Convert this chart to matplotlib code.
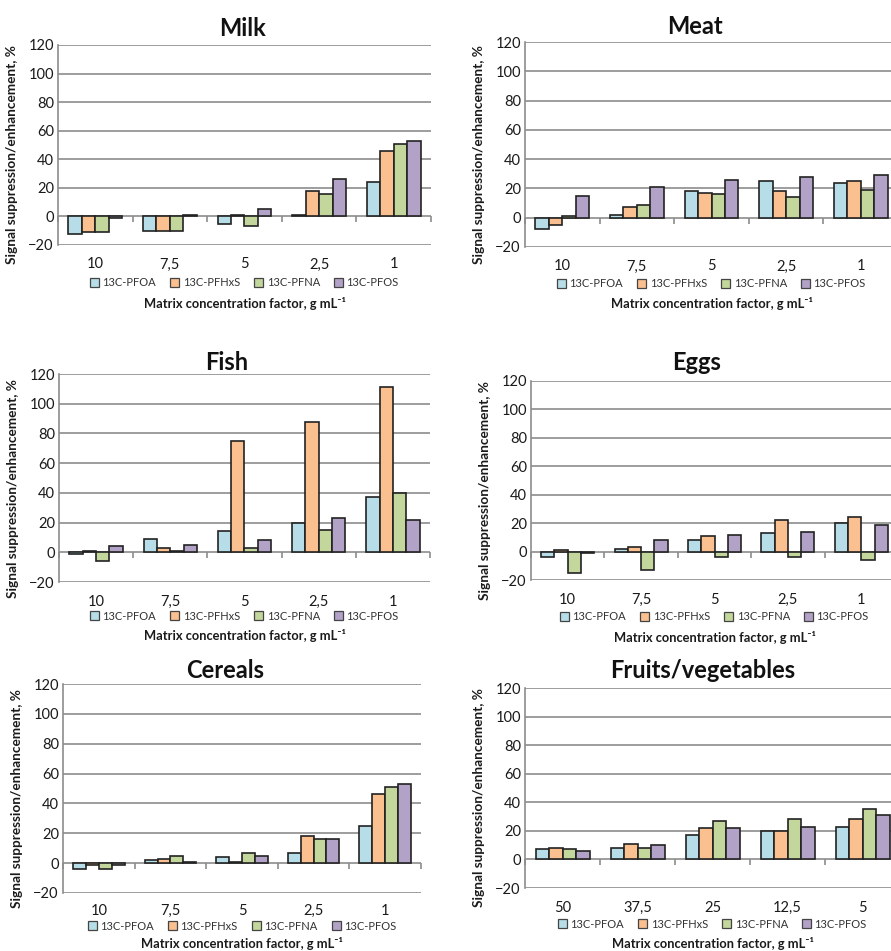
"""Matrix effect (signal suppression/enhancement) per food matrix, 6-panel bar chart."""
import numpy as np
import matplotlib.pyplot as plt
from matplotlib.patches import Patch

plt.rcParams["font.family"] = ["Lato", "DejaVu Sans"]

W, H, DPI = 891, 951, 100

SERIES = ["13C-PFOA", "13C-PFHxS", "13C-PFNA", "13C-PFOS"]
COLORS = ["#b7dee8", "#fac090", "#c3d69b", "#b3a2c7"]

STD_FACTORS = ["10", "7,5", "5", "2,5", "1"]
FRUIT_FACTORS = ["50", "37,5", "25", "12,5", "5"]

# rows = concentration factor, columns = PFOA, PFHxS, PFNA, PFOS (%)
milk = [[-12, -11, -11, -1],
        [-10, -10, -10, 1],
        [-5, 1, -7, 5],
        [1, 18, 16, 26],
        [24, 46, 51, 53]]
meat = [[-8, -5, 1, 15],
        [2, 7, 9, 21],
        [18, 17, 16, 26],
        [25, 18, 14, 28],
        [24, 25, 19, 29]]
fish = [[-1, 1, -6, 4],
        [9, 3, 1, 5],
        [14, 75, 3, 8],
        [20, 88, 15, 23],
        [37, 111, 40, 22]]
eggs = [[-4, 1, -15, -1],
        [2, 3, -13, 8],
        [8, 11, -4, 12],
        [13, 22, -4, 14],
        [20, 24, -6, 19]]
cereals = [[-4, -1, -4, -1],
           [2, 3, 5, 1],
           [4, 0.5, 7, 5],
           [7, 18, 16, 16],
           [25, 46, 51, 53]]
fruits = [[7, 8, 7, 6],
          [8, 11, 8, 10],
          [17, 22, 27, 22],
          [20, 20, 28, 23],
          [23, 28, 35, 31]]

YLABEL = "Signal suppression/enhancement, %"
XLABEL = "Matrix concentration factor, g mL\u207b\u00b9"

# layout in pixels: (left, top, bottom, right) of plot area, title centre,
# offsets below plot area for tick labels / legend / x label
PANELS = [
    ("Milk", STD_FACTORS, milk, (58, 45, 245, 431), (243, 28), (9, 38, 58)),
    ("Meat", STD_FACTORS, meat, (525, 42, 247, 898), (695, 27), (9, 37, 57)),
    ("Fish", STD_FACTORS, fish, (59, 374, 582, 430), (227, 362), (9, 34, 54)),
    ("Eggs", STD_FACTORS, eggs, (531, 381, 580, 898), (697, 362), (9, 37, 57)),
    ("Cereals", STD_FACTORS, cereals, (63, 684, 893, 421), (225, 670), (8, 33, 51)),
    ("Fruits/vegetables", FRUIT_FACTORS, fruits, (525, 688, 888, 900), (703, 670), (9, 36, 55)),
]


def draw_panel(fig, title, factors, values, box, title_xy, offs):
    left, top, bottom, right = box
    w_px, h_px = right - left, bottom - top
    ax = fig.add_axes([left / W, 1 - bottom / H, w_px / W, h_px / H])
    values = np.asarray(values, dtype=float)
    x = np.arange(len(factors))
    bw = 0.18
    for j, col in enumerate(COLORS):
        ax.bar(x + (j - 1.5) * bw, values[:, j], width=bw, color=col,
               edgecolor="#222222", linewidth=1.2, zorder=3)

    ax.set_xlim(-0.5, len(factors) - 0.5)
    ax.set_ylim(-20, 120)
    ax.set_yticks(np.arange(-20, 121, 20))
    ax.yaxis.grid(True, color="#8c8c8c", linewidth=1.2)
    ax.set_axisbelow(True)
    for s in ("top", "right", "bottom"):
        ax.spines[s].set_visible(False)
    ax.spines["left"].set_color("#8c8c8c")
    ax.spines["left"].set_linewidth(1.2)
    ax.tick_params(axis="y", length=0, pad=3, labelsize=10.5, labelcolor="#1a1a1a")
    ax.set_xticks(x, factors)
    ax.tick_params(axis="x", length=0, pad=offs[0], labelsize=10.5, labelcolor="#1a1a1a")

    # category boundary tick marks sitting on the zero line
    zero = ax.secondary_xaxis(20 / 140)
    zero.set_alignment("bottom")
    zero.set_xticks(np.arange(len(factors) + 1) - 0.5)
    zero.set_xticklabels([])
    zero.tick_params(length=4, width=1.2, color="#8c8c8c", direction="out")
    zero.spines["bottom"].set_visible(False)

    ax.set_ylabel(YLABEL, fontsize=9.8, fontweight="bold", color="#1a1a1a")
    ax.yaxis.set_label_coords(-40 / w_px, 0.45)

    handles = [Patch(facecolor=c, edgecolor="#444444", linewidth=0.9, label=s)
               for s, c in zip(SERIES, COLORS)]
    ax.legend(handles=handles, loc="center", bbox_to_anchor=(0.5, -offs[1] / h_px),
              ncol=4, frameon=False, fontsize=8, handlelength=0.8,
              handleheight=0.8, handletextpad=0.3, columnspacing=1.3,
              borderaxespad=0, borderpad=0, labelcolor="#333333")
    ax.text(0.5, -offs[2] / h_px, XLABEL, transform=ax.transAxes, ha="center",
            va="center", fontsize=9.3, fontweight="bold", color="#1a1a1a")

    fig.text(title_xy[0] / W, 1 - title_xy[1] / H, title, ha="center", va="center",
             fontsize=17, fontweight="bold", color="#111111")


fig = plt.figure(figsize=(W / DPI, H / DPI), dpi=DPI)
for title, factors, data, box, txy, offs in PANELS:
    draw_panel(fig, title, factors, data, box, txy, offs)

fig.savefig("out.png", dpi=DPI)
